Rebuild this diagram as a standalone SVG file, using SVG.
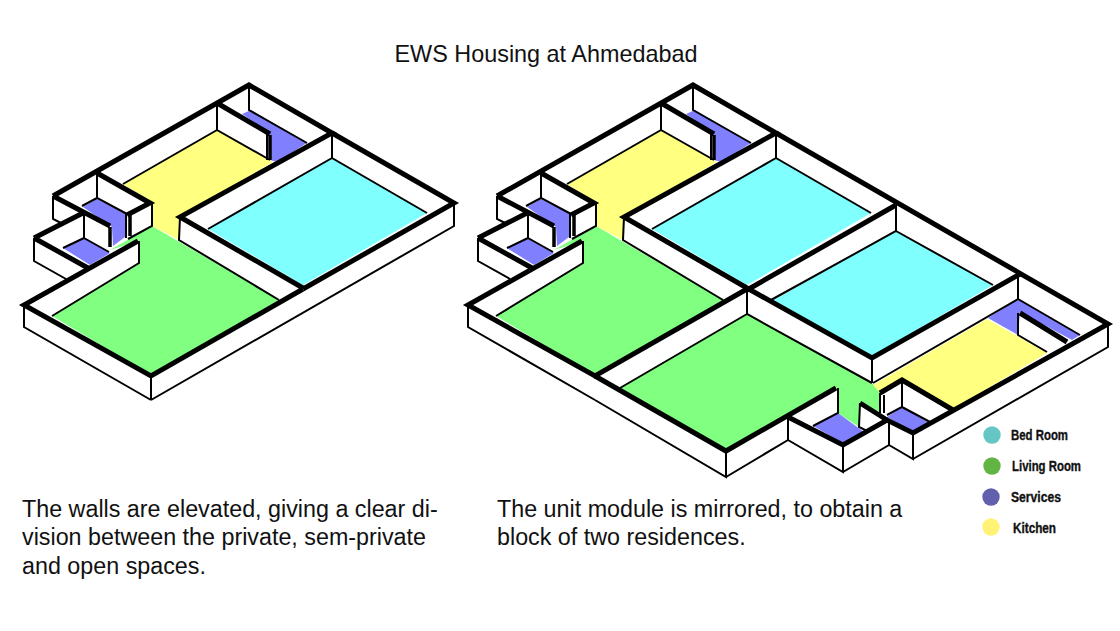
<svg xmlns="http://www.w3.org/2000/svg" xmlns:xlink="http://www.w3.org/1999/xlink" width="1120" height="631" viewBox="0 0 1120 631">
<style>
.g{fill:#80ff80}.y{fill:#ffff80}.c{fill:#80ffff}.b{fill:#8080ff}
.k,.t,.m{fill:none;stroke:#000;stroke-linejoin:miter;stroke-linecap:butt}
.k{stroke-width:5}.t{stroke-width:2}.m{stroke-width:3.5}
text{font-family:"Liberation Sans",Arial,sans-serif;fill:#111}
.h{font-size:23.4px}.p{font-size:23.3px}
.l{font-family:"Liberation Sans Narrow","Liberation Sans",Arial,sans-serif;font-weight:700;font-size:14px;fill:#111;stroke:#111;stroke-width:.35px}
</style>
<defs>
<g id="module">
<polygon class="g" points="52,316 139,264 139,241 110,250 152,226 279,300 151,375"/>
<polygon class="y" points="123,184 217,130 273,162 180,217 179,240 152,226 152,202"/>
<polygon class="c" points="332,158 427,213 303,285 208,229"/>
<polygon class="b" points="242,114 251,110 307,143 277,162 270,160 270,134"/>
<polygon class="b" points="83,207 97,199 126,214 125,237 113,246 112,227"/>
<polygon class="b" points="63,248 84,238 110,253 90,265"/>
<path class="k" d="M53 196L249 85L332 133L180 217L303 288"/>
<path class="k" d="M217 103L270 134M97 173L150 203L127 215M53 196L110 226"/>
<path class="k" d="M34 238L83 213M34 238L88 268"/>
<path class="k" d="M138 241L24 305L151 376L303 289"/>
<path class="m" d="M110 227V247M270 135V160M130 215V236"/>
<path class="t" d="M249 85V110L307 143M217 103V130L270 160M217 130L123 184M332 133V158L427 213M332 158L208 229M180 217L179 240L279 300"/>
<path class="t" d="M97 173V198L127 214M97 198L82 206M126 214V238M152 203V226L128 239M53 196V219L61 223"/>
<path class="t" d="M34 238V261L66 279M84 215V238L109 252M84 238L63 248M139 241V263L52 316M267 134V160"/>
<path class="t" d="M24 305V327L151 400"/>
</g>
</defs>

<text class="h" x="546" y="62" text-anchor="middle">EWS Housing at Ahmedabad</text>

<g id="single-unit">
<use href="#module" xlink:href="#module"/>
<path class="k" d="M332 133L454 203L303 289"/>
<path class="t" d="M151 376V400M454 203V226L151 400"/>
</g>

<g id="mirrored-block">
<use href="#module" xlink:href="#module" x="444"/>
<polygon class="c" points="896,231 993,285 872,356 772,301"/>
<polygon class="g" points="747,314 873,384 880,391 879,412 860,403 859,427 838,413 838,388 726,449 620,388"/>
<polygon class="y" points="873,385 987,319 1047,353 953,409 902,380 880,393"/>
<polygon class="b" points="1018,299 1080,335 1072,340 1020,312 1018,335 988,318"/>
<polygon class="b" points="902,407 929,423 913,432 887,417"/>
<polygon class="b" points="813,426 838,413 864,432 843,443"/>
<path class="k" d="M776 133L1108 324L913 433L887 420L843 445L788 417"/>
<path class="k" d="M747 290L896 205M747 288L872 358L1020 274"/>
<path class="k" d="M595 376L726 451L836 388"/>
<path class="k" d="M860 403L887 420M880 393L902 380L953 410"/>
<path class="k" d="M1020 313L1067 342"/>
<path class="t" d="M896 205V231L771 300M896 231L993 285M1018 276V299L1080 335M1018 313V335L1047 352M872 358V383M1018 299L873 383"/>
<path class="t" d="M747 290V314L872 383M747 314L620 388"/>
<path class="t" d="M726 451V477L595 400M726 477L788 440V417M788 440L843 472V445M843 472L889 445V421M889 445L913 459V433M913 459L1108 347V324"/>
<path class="t" d="M838 388V413L813 426M860 403L859 427L867 431M880 393V413M884 395V413M902 382V407L887 415M902 407L930 422"/>
</g>

<g id="captions">
<text class="p" x="22" y="517">The walls are elevated, giving a clear di-</text>
<text class="p" x="22" y="545">vision between the private, sem-private</text>
<text class="p" x="22" y="574">and open spaces.</text>
<text class="p" x="497" y="517">The unit module is mirrored, to obtain a</text>
<text class="p" x="497" y="545">block of two residences.</text>
</g>

<g id="legend">
<g id="legend-bed"><circle cx="992" cy="435" r="8.7" fill="#66c5c5"/><text class="l" x="1011" y="440" textLength="57" lengthAdjust="spacingAndGlyphs">Bed Room</text></g>
<g id="legend-living"><circle cx="992" cy="466" r="8.7" fill="#62b545"/><text class="l" x="1012" y="471" textLength="69" lengthAdjust="spacingAndGlyphs">Living Room</text></g>
<g id="legend-services"><circle cx="991" cy="497" r="8.7" fill="#6060ac"/><text class="l" x="1011" y="502" textLength="50" lengthAdjust="spacingAndGlyphs">Services</text></g>
<g id="legend-kitchen"><circle cx="991" cy="527" r="8.7" fill="#fff275"/><text class="l" x="1013" y="533" textLength="43" lengthAdjust="spacingAndGlyphs">Kitchen</text></g>
</g>
</svg>
